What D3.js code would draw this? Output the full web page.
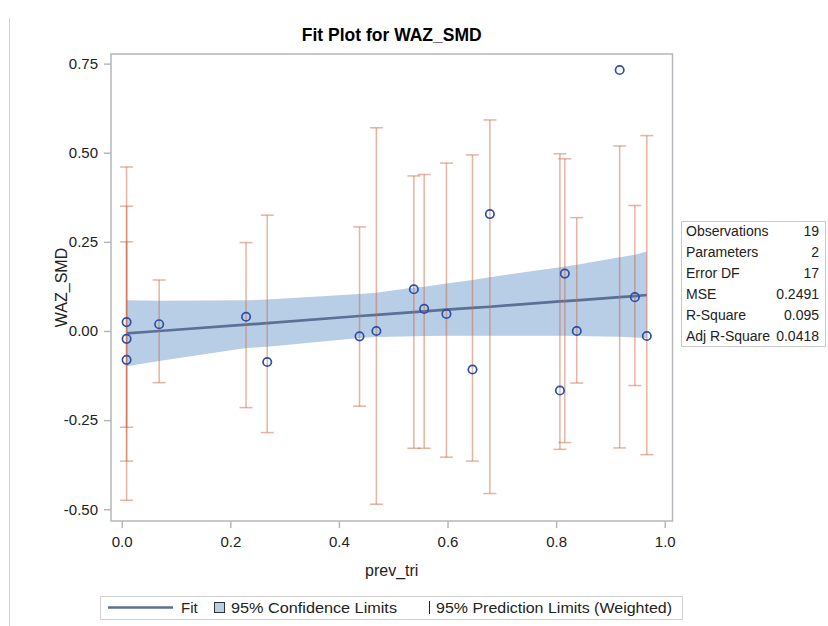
<!DOCTYPE html>
<html>
<head>
<meta charset="utf-8">
<script src="https://cdn.jsdelivr.net/npm/d3@7/dist/d3.min.js"></script>
<style>
  html, body { margin: 0; padding: 0; background: #fff; }
  svg { display: block; font-family: "Liberation Sans", Arial, sans-serif; }
</style>
</head>
<body>
<svg id="chart" width="828" height="626"></svg>
<script>
// Observations: prevalence of trichuris vs WAZ standardized mean difference
const prevTri   = [0.009, 0.009, 0.009, 0.069, 0.229, 0.268, 0.438, 0.469, 0.538, 0.557,
                   0.598, 0.646, 0.678, 0.807, 0.816, 0.838, 0.917, 0.945, 0.967];
const wazSmd    = [0.025, -0.022, -0.081, 0.019, 0.040, -0.087, -0.015, 0.000, 0.117, 0.062,
                   0.048, -0.108, 0.328, -0.167, 0.161, 0.000, 0.732, 0.095, -0.014];
// 95% prediction limits (weighted) per observation
const predLower = [-0.475, -0.365, -0.270, -0.145, -0.215, -0.285, -0.211, -0.486, -0.329, -0.329,
                   -0.354, -0.365, -0.456, -0.332, -0.313, -0.146, -0.328, -0.153, -0.347];
const predUpper = [0.460, 0.350, 0.250, 0.143, 0.248, 0.325, 0.292, 0.570, 0.435, 0.439,
                   0.471, 0.494, 0.592, 0.497, 0.483, 0.318, 0.519, 0.352, 0.548];

// Fitted line and 95% confidence band at the distinct x values
const fitX    = [0.009, 0.069, 0.229, 0.268, 0.438, 0.469, 0.538, 0.557, 0.598, 0.646,
                 0.678, 0.807, 0.816, 0.838, 0.917, 0.945, 0.967];
const fitY    = [-0.0065, 0.000, 0.018, 0.022, 0.042, 0.045, 0.053, 0.055, 0.060, 0.065,
                 0.068, 0.083, 0.084, 0.086, 0.095, 0.098, 0.101];
const clLower = [-0.099, -0.084, -0.048, -0.044, -0.020, -0.017, -0.015, -0.014, -0.013, -0.013,
                 -0.013, -0.013, -0.013, -0.014, -0.016, -0.018, -0.020];
const clUpper = [0.086, 0.085, 0.086, 0.088, 0.104, 0.107, 0.122, 0.124, 0.133, 0.143,
                 0.151, 0.179, 0.181, 0.186, 0.207, 0.214, 0.223];

const xTicks = [0, 0.2, 0.4, 0.6, 0.8, 1.0];
const yTicks = [-0.5, -0.25, 0, 0.25, 0.5, 0.75];

const statLabels = ["Observations", "Parameters", "Error DF", "MSE", "R-Square", "Adj R-Square"];
const statValues = ["19", "2", "17", "0.2491", "0.095", "0.0418"];

const legendItems = ["Fit", "95% Confidence Limits", "95% Prediction Limits (Weighted)"];

const C = {
  frame: "#b4b8bc",
  text: "#222",
  band: "#b8cde6",
  fit: "#5b7194",
  bar: "rgb(205,105,70)",
  point: "#2c4fa8"
};

const svg = d3.select("#chart");
const plot = { left: 111, right: 672.5, top: 54, bottom: 521 };

const x = d3.scaleLinear().domain([-0.0197, 1.0143]).range([plot.left, plot.right]);
const y = d3.scaleLinear().domain([-0.533, 0.777]).range([plot.bottom, plot.top]);

// thin page rule at the left edge
svg.append("line").attr("x1", 9.5).attr("x2", 9.5).attr("y1", 18).attr("y2", 626)
  .attr("stroke", "#d0d0d0").attr("stroke-width", 1);

// title
svg.append("text").attr("x", (plot.left + plot.right) / 2).attr("y", 41)
  .attr("text-anchor", "middle").attr("font-size", 17.5).attr("font-weight", "bold")
  .attr("fill", "#000").text("Fit Plot for WAZ_SMD");

const g = svg.append("g");

// confidence band
const bandData = fitX.map((d, i) => ({ x: d, lo: clLower[i], hi: clUpper[i] }));
g.append("path").datum(bandData)
  .attr("d", d3.area().x(d => x(d.x)).y0(d => y(d.lo)).y1(d => y(d.hi)))
  .attr("fill", C.band);

// fit line
const fitData = fitX.map((d, i) => ({ x: d, y: fitY[i] }));
g.append("path").datum(fitData)
  .attr("d", d3.line().x(d => x(d.x)).y(d => y(d.y)))
  .attr("fill", "none").attr("stroke", C.fit).attr("stroke-width", 2.7);

// prediction limit bars
const obs = prevTri.map((d, i) => ({ x: d, y: wazSmd[i], lo: predLower[i], hi: predUpper[i] }));
const capW = 6.5;
const bars = g.append("g").attr("stroke", C.bar).attr("stroke-opacity", 0.5).attr("stroke-width", 1.5);
obs.forEach(d => {
  const bg = bars.append("g");
  bg.append("line").attr("x1", x(d.x)).attr("x2", x(d.x)).attr("y1", y(d.lo)).attr("y2", y(d.hi));
  bg.append("line").attr("x1", x(d.x) - capW).attr("x2", x(d.x) + capW).attr("y1", y(d.hi)).attr("y2", y(d.hi));
  bg.append("line").attr("x1", x(d.x) - capW).attr("x2", x(d.x) + capW).attr("y1", y(d.lo)).attr("y2", y(d.lo));
});

// observations
g.selectAll("circle.obs").data(obs).enter().append("circle")
  .attr("class", "obs")
  .attr("cx", d => x(d.x)).attr("cy", d => y(d.y)).attr("r", 4.2)
  .attr("fill", "none").attr("stroke", C.point).attr("stroke-width", 1.7);

// frame
svg.append("rect").attr("x", plot.left).attr("y", plot.top)
  .attr("width", plot.right - plot.left).attr("height", plot.bottom - plot.top)
  .attr("fill", "none").attr("stroke", C.frame).attr("stroke-width", 1.5);

// axes
const xAxis = svg.append("g").attr("transform", `translate(0,${plot.bottom})`)
  .call(d3.axisBottom(x).tickValues(xTicks).tickFormat(d => d.toFixed(1)).tickSize(7).tickPadding(8));
const yAxis = svg.append("g").attr("transform", `translate(${plot.left},0)`)
  .call(d3.axisLeft(y).tickValues(yTicks).tickFormat(d => d.toFixed(2)).tickSize(7).tickPadding(6));
[xAxis, yAxis].forEach(a => {
  a.select(".domain").remove();
  a.selectAll(".tick line").attr("stroke", C.frame).attr("stroke-width", 1.5);
  a.selectAll(".tick text").attr("fill", C.text).attr("font-size", 15)
    .attr("font-family", "'Liberation Sans', Arial, sans-serif");
});

// axis labels
svg.append("text").attr("x", (plot.left + plot.right) / 2).attr("y", 576)
  .attr("text-anchor", "middle").attr("font-size", 16).attr("fill", C.text).text("prev_tri");
svg.append("text").attr("transform", `translate(67,${(plot.top + plot.bottom) / 2}) rotate(-90)`)
  .attr("text-anchor", "middle").attr("font-size", 16).attr("fill", C.text).text("WAZ_SMD");

// statistics inset
const stat = svg.append("g");
stat.append("rect").attr("x", 681.5).attr("y", 221.5).attr("width", 144).attr("height", 125)
  .attr("fill", "#fff").attr("stroke", "#c8c8c8").attr("stroke-width", 1);
statLabels.forEach((s, i) => {
  stat.append("text").attr("x", 686).attr("y", 236 + i * 21).attr("font-size", 14)
    .attr("fill", C.text).text(s);
  stat.append("text").attr("x", 819).attr("y", 236 + i * 21).attr("font-size", 14)
    .attr("text-anchor", "end").attr("fill", C.text).text(statValues[i]);
});

// legend
const lg = svg.append("g");
lg.append("rect").attr("x", 100.5).attr("y", 596.5).attr("width", 582).attr("height", 23)
  .attr("fill", "#fff").attr("stroke", "#d0d0d0").attr("stroke-width", 1);
lg.append("line").attr("x1", 108).attr("x2", 173).attr("y1", 607.5).attr("y2", 607.5)
  .attr("stroke", C.fit).attr("stroke-width", 2.7);
lg.append("text").attr("x", 181).attr("y", 613).attr("font-size", 15).attr("fill", C.text).text(legendItems[0]);
lg.append("rect").attr("x", 214.5).attr("y", 602.5).attr("width", 10).attr("height", 10)
  .attr("fill", C.band).attr("stroke", "#333").attr("stroke-width", 1);
lg.append("text").attr("x", 231).attr("y", 613).attr("font-size", 15).attr("fill", C.text)
  .attr("textLength", 166).attr("lengthAdjust", "spacingAndGlyphs").text(legendItems[1]);
lg.append("line").attr("x1", 429.5).attr("x2", 429.5).attr("y1", 601).attr("y2", 614)
  .attr("stroke", C.text).attr("stroke-width", 1);
lg.append("text").attr("x", 436).attr("y", 613).attr("font-size", 15).attr("fill", C.text)
  .attr("textLength", 236).attr("lengthAdjust", "spacingAndGlyphs").text(legendItems[2]);
</script>
</body>
</html>
